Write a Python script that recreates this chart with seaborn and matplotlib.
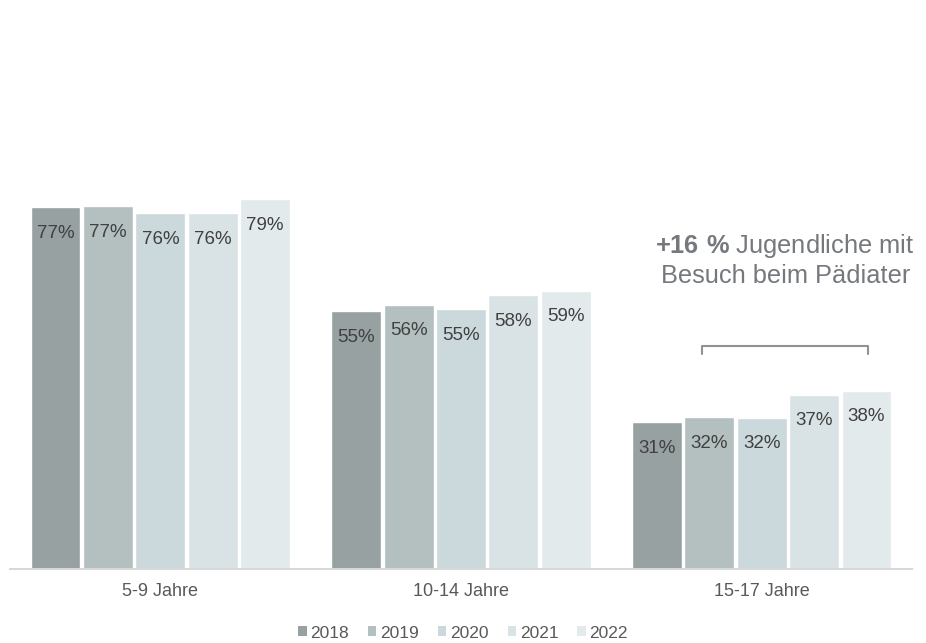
import pandas as pd
import matplotlib
matplotlib.use("Agg")
import matplotlib.pyplot as plt
import seaborn as sns
from matplotlib.patches import Patch

age_groups = ["5-9 Jahre", "10-14 Jahre", "15-17 Jahre"]
years = ["2018", "2019", "2020", "2021", "2022"]
values_2018 = [77.1, 55.0, 31.3]
values_2019 = [77.3, 56.3, 32.4]
values_2020 = [75.8, 55.4, 32.3]
values_2021 = [75.8, 58.4, 37.2]
values_2022 = [78.8, 59.3, 38.0]
colors = ["#97a1a1", "#b4bfbf", "#cbd8dc", "#d9e3e5", "#e3eaec"]

note_bold = "+16\\ \\%"
note_line1 = " Jugendliche mit"
note_line2 = "Besuch beim Pädiater"

rows = []
for year, vals in zip(years, [values_2018, values_2019, values_2020, values_2021, values_2022]):
    for age, v in zip(age_groups, vals):
        rows.append({"age": age, "year": year, "value": v})
df = pd.DataFrame(rows)

sns.set_style("white")
plt.rcParams["font.family"] = ["Liberation Sans", "DejaVu Sans"]
plt.rcParams["mathtext.fontset"] = "custom"
plt.rcParams["mathtext.rm"] = "Liberation Sans"
plt.rcParams["mathtext.bf"] = "Liberation Sans:bold"

fig = plt.figure(figsize=(9.26, 6.43), dpi=100)
ax = fig.add_axes([10 / 926, 1 - 569 / 643, 902 / 926, 469 / 643])

sns.barplot(data=df, x="age", y="value", hue="year", palette=colors,
            width=0.872, gap=0.048, saturation=1, legend=False, ax=ax)

# labels inside the top of each bar
for container in ax.containers:
    for bar in container:
        h = bar.get_height()
        ax.text(bar.get_x() + bar.get_width() / 2, h - 6.5, f"{round(h):.0f}%",
                ha="center", va="baseline", fontsize=13.5, color="#404040")

ax.set_xlim(-0.5, 2.5)
ax.set_ylim(0, 100)
ax.set_xlabel("")
ax.set_ylabel("")
ax.set_yticks([])
ax.tick_params(axis="x", length=0, pad=10, labelsize=13, labelcolor="#595959")
for side in ["top", "left", "right"]:
    ax.spines[side].set_visible(False)
ax.spines["bottom"].set_color("#d9d9d9")
ax.spines["bottom"].set_linewidth(1.5)

# bracket and note over the last group
ax.plot([1.80, 1.80, 2.352, 2.352], [45.8, 47.5, 47.5, 45.8],
        color="#8e9196", lw=1.5, clip_on=False)
ax.text(2.075, 67.4, f"$\\mathbf{{{note_bold}}}$" + note_line1, ha="center", va="baseline",
        fontsize=18.3, color="#75787d")
ax.text(2.08, 61.0, note_line2, ha="center", va="baseline",
        fontsize=18.3, color="#75787d")

handles = [Patch(facecolor=c, edgecolor="none", label=y) for c, y in zip(colors, years)]
leg = fig.legend(handles=handles, loc="center", bbox_to_anchor=(0.5, 1 - 633 / 643),
                 ncol=5, frameon=False, fontsize=12.5, handlelength=0.5, handleheight=0.5,
                 handletextpad=0.2, columnspacing=1.1)
for t in leg.get_texts():
    t.set_color("#595959")

fig.savefig("out.png", dpi=100)
